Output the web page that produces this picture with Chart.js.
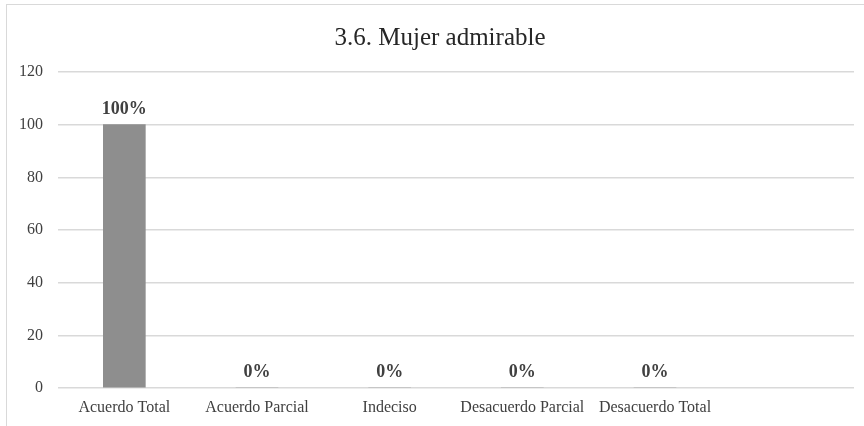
<!DOCTYPE html>
<html>
<head>
<meta charset="utf-8">
<script src="https://cdn.jsdelivr.net/npm/chart.js@4/dist/chart.umd.min.js"></script>
<style>
  body { margin: 0; overflow: hidden; background: #fff; }
  #frame { position: absolute; left: 6px; top: 4px; width: 900px; height: 500px; border: 1px solid #d9d9d9; }
  #chart { position: absolute; left: 0; top: 0; }
</style>
</head>
<body>
<div id="frame"></div>
<canvas id="chart" width="864" height="426"></canvas>
<script>
const ctx = document.getElementById("chart").getContext("2d");

// categories (last slot stays empty, like the original sheet)
const categories = ["Acuerdo Total", "Acuerdo Parcial", "Indeciso", "Desacuerdo Parcial", "Desacuerdo Total", ""];
const percentValues = [100, 0, 0, 0, 0, null];
const yTicks = [0, 20, 40, 60, 80, 100, 120];

const serif = "'Liberation Serif', 'Times New Roman', serif";
let barColor = "#8e8e8e";
let gridColor = "#d9d9d9";
let textColor = "#404040";

// draws the "100%" / "0%" labels above each bar
const valueLabels = {
  id: "valueLabels",
  afterDatasetsDraw(chart) {
    const c = chart.ctx;
    const meta = chart.getDatasetMeta(0);
    c.save();
    c.font = "bold 18px " + serif;
    c.fillStyle = textColor;
    c.textAlign = "center";
    c.textBaseline = "alphabetic";
    meta.data.forEach((bar, i) => {
      const v = percentValues[i];
      if (v === null || v === undefined) return;
      c.fillText(v + "%", bar.x, bar.y - 11);
    });
    c.restore();
  }
};

// title is centred on the whole framed box, not only on the plot
const titleCentre = {
  id: "titleCentre",
  afterLayout(chart) {
    if (chart.titleBlock) {
      chart.titleBlock.left = 7;
      chart.titleBlock.right = 873;
    }
  }
};

const data = {
  labels: categories,
  datasets: [
    {
      label: "Mujer admirable",
      data: percentValues,
      backgroundColor: barColor,
      borderWidth: 0,
      barThickness: 42,
    },
  ],
};

const options = {
  responsive: false,
  animation: false,
  layout: {
    padding: { left: 0, right: 10, top: 10, bottom: 0 }
  },
  plugins: {
    legend: { display: false },
    tooltip: { enabled: false },
    title: {
      display: true,
      text: "3.6. Mujer admirable",
      color: "#262626",
      font: { family: serif, size: 25, weight: "normal" },
      padding: { top: 13, bottom: 19 },
    },
  },
  scales: {
    x: {
      grid: { display: false, drawTicks: false },
      border: { display: false },
      ticks: {
        color: textColor,
        font: { family: serif, size: 16 },
        padding: 10,
        maxRotation: 0,
        autoSkip: false,
      },
      afterFit(scale) { scale.height = 38; },
    },
    y: {
      min: 0,
      max: 120,
      afterBuildTicks(scale) { scale.ticks = yTicks.map(v => ({ value: v })); },
      grid: { color: gridColor, lineWidth: 1.5, drawTicks: false },
      border: { display: false },
      ticks: {
        color: textColor,
        font: { family: serif, size: 16 },
        padding: 15,
      },
      afterFit(scale) { scale.width = 58; },
    },
  },
};

new Chart(ctx, {
  type: "bar",
  data: data,
  options: options,
  plugins: [valueLabels, titleCentre],
});
</script>
</body>
</html>
